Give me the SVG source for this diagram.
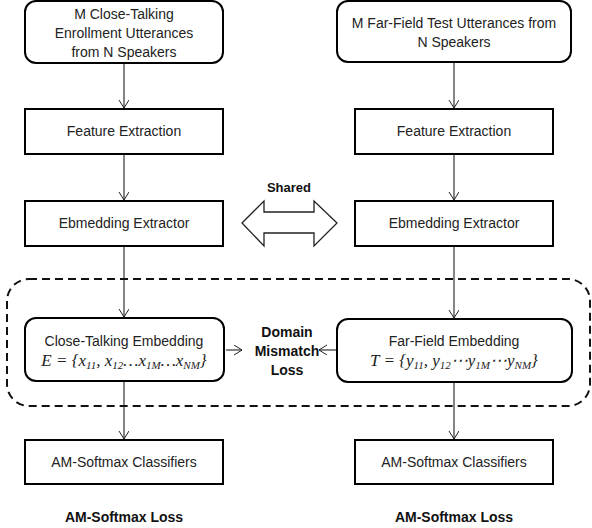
<svg xmlns="http://www.w3.org/2000/svg" width="592" height="528" viewBox="0 0 592 528">
<defs>
<marker id="arr" markerWidth="12" markerHeight="12" refX="9" refY="5" orient="auto" markerUnits="userSpaceOnUse">
<path d="M1,0 L9,5 L1,10" fill="none" stroke="#222" stroke-width="1"/>
</marker>
<style>
.box{fill:#fff;stroke:#000;stroke-width:2}
.t{font-family:"Liberation Sans",Arial,sans-serif;font-size:14px;fill:#222;text-anchor:middle}
.b{font-family:"Liberation Sans",Arial,sans-serif;font-size:14px;font-weight:bold;fill:#111;text-anchor:middle}
.m{font-family:"Liberation Serif","Times New Roman",serif;font-size:17px;font-style:italic;fill:#222;text-anchor:middle}
.s{font-size:11px}
.c{stroke:#333;stroke-width:1.2;fill:none;marker-end:url(#arr)}
</style>
</defs>
<rect width="592" height="528" fill="#fff"/>
<g id="connectors">
<line class="c" x1="124" y1="63" x2="124" y2="108"/>
<line class="c" x1="454" y1="62" x2="454" y2="108"/>
<line class="c" x1="124" y1="154" x2="124" y2="200"/>
<line class="c" x1="454" y1="154" x2="454" y2="200"/>
<line class="c" x1="124" y1="246" x2="124" y2="317"/>
<line class="c" x1="454" y1="246" x2="454" y2="318"/>
<line class="c" x1="124" y1="381" x2="124" y2="439"/>
<line class="c" x1="454" y1="382" x2="454" y2="439"/>
<line class="c" x1="226" y1="350" x2="242" y2="350"/>
<line class="c" x1="337" y1="350" x2="319" y2="350"/>
</g>
<g id="domain-group">
<rect x="7" y="279" width="583" height="127" rx="22" fill="none" stroke="#111" stroke-width="2" stroke-dasharray="8,5"/>
</g>
<g id="shared">
<polygon points="242,223 264,201 264,212 314,212 314,201 337,223 314,246 314,233 264,233 264,246" fill="#fff" stroke="#222" stroke-width="1.3"/>
<text class="b" x="289" y="192" style="font-size:13px">Shared</text>
</g>
<g id="enroll">
<rect class="box" x="25" y="1" width="198" height="62" rx="11"/>
<text class="t" x="124" y="19">M Close-Talking</text>
<text class="t" x="124" y="38">Enrollment Utterances</text>
<text class="t" x="124" y="57">from N Speakers</text>
</g>
<g id="test">
<rect class="box" x="337" y="1" width="234" height="61" rx="11"/>
<text class="t" x="454" y="28">M Far-Field Test Utterances from</text>
<text class="t" x="454" y="47">N Speakers</text>
</g>
<g id="feat-left">
<rect class="box" x="25" y="109" width="198" height="45"/>
<text class="t" x="124" y="136">Feature Extraction</text>
</g>
<g id="feat-right">
<rect class="box" x="355" y="109" width="198" height="45"/>
<text class="t" x="454" y="136">Feature Extraction</text>
</g>
<g id="emb-left">
<rect class="box" x="25" y="201" width="198" height="45"/>
<text class="t" x="124" y="228">Ebmedding Extractor</text>
</g>
<g id="emb-right">
<rect class="box" x="355" y="201" width="198" height="45"/>
<text class="t" x="454" y="228">Ebmedding Extractor</text>
</g>
<g id="close-emb">
<rect class="box" x="25" y="318" width="199" height="63" rx="11"/>
<text class="t" x="124" y="346">Close-Talking Embedding</text>
<text class="m" x="124" y="366">E = {x<tspan class="s" dy="3">11</tspan><tspan dy="-3">, x</tspan><tspan class="s" dy="3">12</tspan><tspan dy="-3">…x</tspan><tspan class="s" dy="3">1M</tspan><tspan dy="-3">…x</tspan><tspan class="s" dy="3">NM</tspan><tspan dy="-3">}</tspan></text>
</g>
<g id="far-emb">
<rect class="box" x="337" y="319" width="235" height="63" rx="11"/>
<text class="t" x="454" y="346">Far-Field Embedding</text>
<text class="m" x="454" y="366">T = {y<tspan class="s" dy="3">11</tspan><tspan dy="-3">, y</tspan><tspan class="s" dy="3">12</tspan><tspan dy="-3">⋯y</tspan><tspan class="s" dy="3">1M</tspan><tspan dy="-3">⋯y</tspan><tspan class="s" dy="3">NM</tspan><tspan dy="-3">}</tspan></text>
</g>
<g id="mismatch">
<text class="b" x="287" y="337">Domain</text>
<text class="b" x="287" y="356">Mismatch</text>
<text class="b" x="287" y="375">Loss</text>
</g>
<g id="am-left">
<rect class="box" x="25" y="440" width="198" height="44"/>
<text class="t" x="124" y="467">AM-Softmax Classifiers</text>
</g>
<g id="am-right">
<rect class="box" x="355" y="440" width="198" height="44"/>
<text class="t" x="454" y="467">AM-Softmax Classifiers</text>
</g>
<g id="loss-left"><text class="b" x="124" y="522">AM-Softmax Loss</text></g>
<g id="loss-right"><text class="b" x="454" y="522">AM-Softmax Loss</text></g>
</svg>
